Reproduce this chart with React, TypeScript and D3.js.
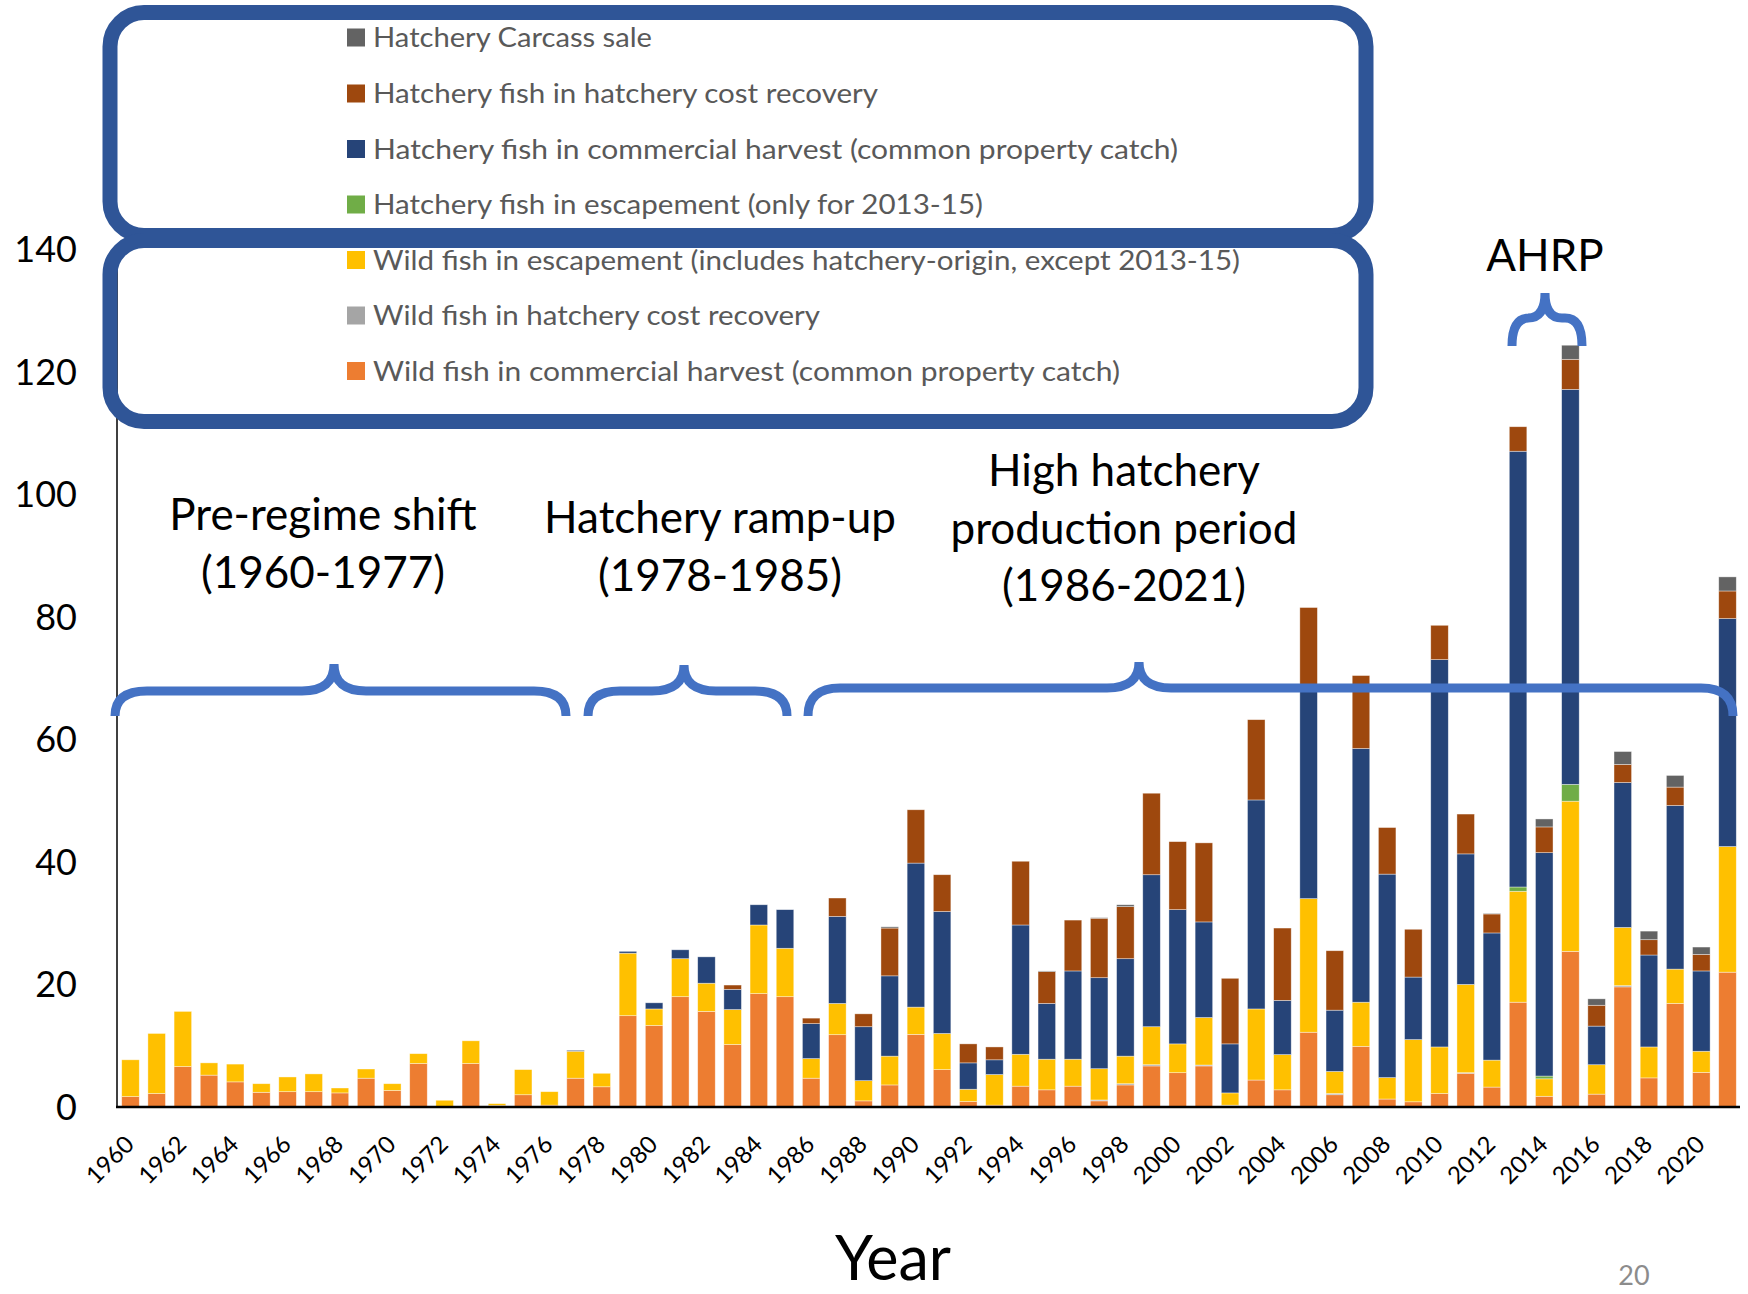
import React from "react";
import * as d3 from "d3";

const years: string[] = d3.range(1960, 2022).map(String);

// segment values (thousands of fish), bottom to top of each stack
const wildCommercial = [1.7, 2.2, 6.6, 5.2, 4.1, 2.4, 2.5, 2.5, 2.3, 4.7, 2.7, 7.1, 0.1, 7.1, 0.25, 2.0, 0.3, 4.7, 3.3, 14.9,
  13.3, 18.0, 15.6, 10.2, 18.5, 18.0, 4.7, 11.8, 1.0, 3.6, 11.85, 6.1, 0.9, 0.3, 3.4, 2.8, 3.4, 1.0, 3.6, 6.7,
  5.6, 6.7, 0.2, 4.4, 2.8, 12.2, 2.0, 9.9, 1.3, 0.85, 2.2, 5.5, 3.25, 17.1, 1.75, 25.4, 2.1, 19.6, 4.75, 16.9,
  5.65, 22.0];
const wildCostRecovery = [0, 0, 0, 0, 0, 0, 0, 0, 0, 0, 0, 0, 0, 0, 0, 0, 0, 0, 0, 0,
  0, 0, 0, 0, 0, 0, 0, 0, 0, 0, 0, 0, 0, 0, 0, 0, 0, 0.15, 0.2, 0.2,
  0, 0.15, 0.1, 0, 0, 0, 0.2, 0, 0, 0, 0, 0.1, 0, 0, 0, 0, 0, 0.2, 0, 0,
  0, 0];
const wildEscapement = [6.0, 9.8, 9.0, 2.0, 2.9, 1.4, 2.4, 2.9, 0.8, 1.5, 1.1, 1.6, 1.0, 3.7, 0.3, 4.1, 2.2, 4.4, 2.2, 10.2,
  2.7, 6.2, 4.6, 5.7, 11.2, 7.9, 3.2, 5.1, 3.3, 4.7, 4.45, 5.9, 2.0, 5.0, 5.2, 5.0, 4.4, 5.1, 4.5, 6.2,
  4.7, 7.75, 2.0, 11.6, 5.75, 21.8, 3.6, 7.2, 3.5, 10.15, 7.6, 14.4, 4.4, 18.1, 2.85, 24.5, 4.8, 9.5, 5.05, 5.6,
  3.45, 20.5];
const hatcheryEscapement = [0, 0, 0, 0, 0, 0, 0, 0, 0, 0, 0, 0, 0, 0, 0, 0, 0, 0, 0, 0,
  0, 0, 0, 0, 0, 0, 0, 0, 0, 0, 0, 0, 0, 0, 0, 0, 0, 0, 0, 0,
  0, 0, 0, 0, 0, 0, 0, 0, 0, 0, 0, 0, 0, 0.7, 0.45, 2.75, 0, 0, 0, 0,
  0, 0];
const hatcheryCommercial = [0, 0, 0, 0, 0, 0, 0, 0, 0, 0, 0, 0, 0, 0, 0, 0, 0, 0.15, 0, 0.3,
  1.0, 1.45, 4.3, 3.3, 3.3, 6.3, 5.7, 14.2, 8.8, 13.1, 23.5, 19.9, 4.3, 2.4, 21.1, 9.1, 14.4, 14.85, 15.9, 24.8,
  21.9, 15.6, 8.0, 34.1, 8.85, 34.5, 10.0, 41.4, 33.2, 10.2, 63.2, 21.3, 20.75, 71.1, 36.45, 64.45, 6.3, 23.65, 15.0, 26.7,
  13.1, 37.2];
const hatcheryCostRecovery = [0, 0, 0, 0, 0, 0, 0, 0, 0, 0, 0, 0, 0, 0, 0, 0, 0, 0, 0, 0,
  0, 0, 0, 0.7, 0, 0, 0.9, 3.0, 2.1, 7.8, 8.7, 6.0, 3.1, 2.1, 10.4, 5.2, 8.3, 9.7, 8.5, 13.3,
  11.1, 12.9, 10.7, 13.1, 11.8, 13.0, 9.7, 11.9, 7.6, 7.8, 5.6, 6.5, 3.1, 4.0, 4.2, 4.9, 3.4, 2.95, 2.5, 3.0,
  2.7, 4.5];
const carcassSale = [0, 0, 0, 0, 0, 0, 0, 0, 0, 0, 0, 0, 0, 0, 0, 0, 0, 0, 0, 0,
  0, 0, 0, 0, 0, 0, 0, 0, 0, 0.2, 0, 0, 0, 0, 0, 0.1, 0, 0.1, 0.3, 0,
  0, 0, 0, 0, 0, 0, 0, 0, 0, 0, 0, 0, 0.1, 0, 1.3, 2.3, 1.05, 2.1, 1.4, 1.9,
  1.2, 2.3];

const seriesKeys = ["wildCommercial", "wildCostRecovery", "wildEscapement", "hatcheryEscapement", "hatcheryCommercial", "hatcheryCostRecovery", "carcassSale"];
const seriesValues: number[][] = [wildCommercial, wildCostRecovery, wildEscapement, hatcheryEscapement, hatcheryCommercial, hatcheryCostRecovery, carcassSale];
const seriesNames = [
  "Wild fish in commercial harvest (common property catch)",
  "Wild fish in hatchery cost recovery",
  "Wild fish in escapement (includes hatchery-origin, except 2013-15)",
  "Hatchery fish in escapement (only for 2013-15)",
  "Hatchery fish in commercial harvest (common property catch)",
  "Hatchery fish in hatchery cost recovery",
  "Hatchery Carcass sale",
];
const seriesColors = ["#ED7D31", "#A5A5A5", "#FFC000", "#70AD47", "#264478", "#9E480E", "#636363"];

const yTicks = [0, 20, 40, 60, 80, 100, 120, 140];

const FONT = "Lato, 'Open Sans', sans-serif";

function bracePath(x0: number, x1: number, xm: number, yEnd: number, yFlat: number, yPeak: number, r: number) {
  return `M${x0},${yEnd} Q${x0},${yFlat} ${x0 + r},${yFlat} L${xm - r},${yFlat} Q${xm},${yFlat} ${xm},${yPeak} ` +
    `Q${xm},${yFlat} ${xm + r},${yFlat} L${x1 - r},${yFlat} Q${x1},${yFlat} ${x1},${yEnd}`;
}

export default function App() {
  const W = 1748, H = 1294;
  const x = d3.scaleBand<string>().domain(years).range([117.4, 1740.6]).paddingInner(0.33).paddingOuter(0.165);
  const y = d3.scaleLinear().domain([0, 140]).range([1107, 249]);

  const rows = years.map((yr, i) => {
    const o: any = { year: yr };
    seriesKeys.forEach((k, j) => (o[k] = seriesValues[j][i]));
    return o;
  });
  const stacked = d3.stack<any>().keys(seriesKeys)(rows);

  const legendOrder = [6, 5, 4, 3, 2, 1, 0];
  const legendY = [37.5, 93.5, 149, 204.5, 260, 315.5, 371];
  // measured label widths in the reference, by series index
  const legendLen = [747, 447, 867, 610, 805, 505, 279];

  return (
    <svg width={W} height={H} style={{ position: "absolute", left: 0, top: 0, background: "#fff" }} fontFamily={FONT}>
      <rect x={0} y={0} width={W} height={H} fill="#fff" />
      {/* bars */}
      {stacked.map((s, j) => (
        <g key={s.key} fill={seriesColors[j]}>
          {s.map((d, i) => {
            const h = y(d[0]) - y(d[1]);
            if (h <= 0) return null;
            return (
              <rect key={i} x={x(years[i])} width={x.bandwidth()} y={y(d[1])} height={h}
                stroke="#ffffff" strokeWidth={0.7} strokeOpacity={0.55} />
            );
          })}
        </g>
      ))}
      {/* axes */}
      <line x1={117} x2={117} y1={y(0)} y2={y(140)} stroke="#000" strokeWidth={1.5} />
      <line x1={116} x2={1740} y1={y(0)} y2={y(0)} stroke="#000" strokeWidth={2.4} />
      {yTicks.map((t) => (
        <text key={t} x={77} y={y(t)} dy="0.36em" textAnchor="end" fontSize={36} fill="#000">{t}</text>
      ))}
      {years.filter((_, i) => i % 2 === 0).map((yr) => {
        const cx = (x(yr) as number) + x.bandwidth() / 2 + 5;
        const cy = 1146;
        return (
          <text key={yr} x={cx} y={cy} transform={`rotate(-45 ${cx} ${cy})`} textAnchor="end" fontSize={24} fill="#000">{yr}</text>
        );
      })}
      <text x={893} y={1280} textAnchor="middle" fontSize={61} fill="#000">Year</text>
      <text x={1634} y={1285} textAnchor="middle" fontSize={27} fill="#8c8c8c">20</text>

      {/* braces */}
      <g fill="none" stroke="#4472C4" strokeWidth={9}>
        <path d={bracePath(115, 566, 334, 716, 691, 664, 32)} />
        <path d={bracePath(588, 787, 684, 716, 691, 665, 32)} />
        <path d={bracePath(808, 1733, 1139, 716, 688, 662, 32)} />
        <path d={bracePath(1512, 1582, 1545, 346, 318, 293, 17)} />
      </g>

      {/* period annotations */}
      <g fontSize={44} fill="#000" textAnchor="middle">
        <text x={323} y={530}>Pre-regime shift</text>
        <text x={323} y={588}>(1960-1977)</text>
        <text x={720} y={533}>Hatchery ramp-up</text>
        <text x={720} y={591}>(1978-1985)</text>
        <text x={1124} y={486}>High hatchery</text>
        <text x={1124} y={544}>production period</text>
        <text x={1124} y={601}>(1986-2021)</text>
        <text x={1545} y={271}>AHRP</text>
      </g>

      {/* legend boxes */}
      <g fill="none" stroke="#2F5597" strokeWidth={15}>
        <rect x={110} y={12.5} width={1256} height={223} rx={34} ry={34} />
        <rect x={110} y={240.5} width={1256} height={181} rx={34} ry={34} />
      </g>
      {legendOrder.map((j, r) => (
        <g key={j}>
          <rect x={347} y={legendY[r] - 9} width={18} height={18} fill={seriesColors[j]} />
          <text x={373} y={legendY[r]} dy="0.36em" fontSize={27} fill="#595959"
            textLength={legendLen[j]} lengthAdjust="spacingAndGlyphs">{seriesNames[j]}</text>
        </g>
      ))}
    </svg>
  );
}
